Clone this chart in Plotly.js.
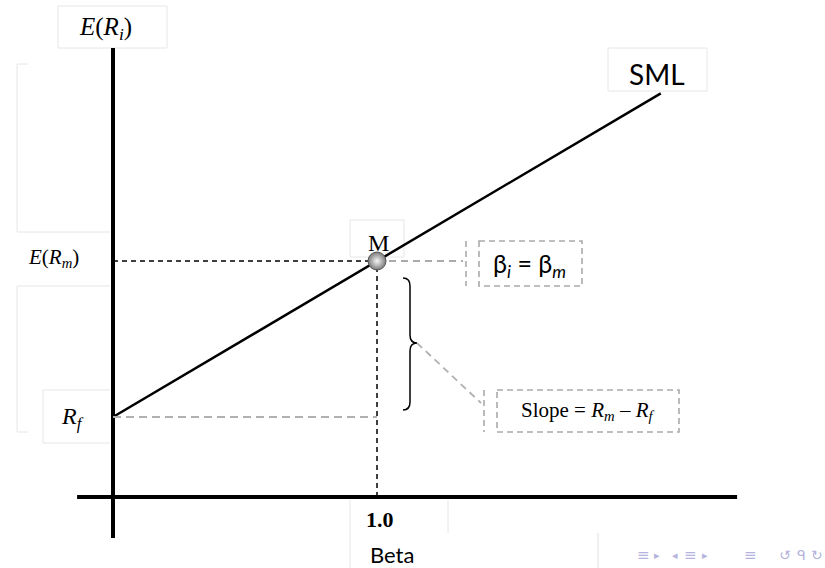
<!DOCTYPE html>
<html><head><meta charset="utf-8">
<script src="https://cdn.plot.ly/plotly-3.0.1.min.js"></script>
<style>html,body{margin:0;padding:0;background:#fff}#chart{width:825px;height:568px}</style>
</head><body><div id="chart"></div>
<script>
// ---- data ----
const marketBeta = 1.0;          // beta of the market portfolio
const riskFree = 4.0;            // Rf (intercept of the SML)
const marketReturn = 11.8;       // E(Rm)
const smlBetaRange = [0, 2.075]; // extent of the SML line
const betaTickLabels = ['1.0'];
const axisXRange = [-0.136, 2.364];
const axisYRange = [-2.05, 22.45];

// ---- pixel helpers (layout only) ----
const W = 825, H = 568, X0 = 113, Y0 = 497, PXX = 264, PXY = 20;
const px = p => (p - X0) / PXX;
const py = p => (Y0 - p) / PXY;

const smlY = smlBetaRange.map(b => riskFree + b * (marketReturn - riskFree));

const traces = [
  {x:[0,0], y:axisYRange, mode:'lines', line:{color:'#000', width:4}},
  {x:axisXRange, y:[0,0], mode:'lines', line:{color:'#000', width:4}},
  {x:smlBetaRange, y:smlY, mode:'lines', line:{color:'#000', width:2.5}},
  {x:[0, marketBeta], y:[marketReturn, marketReturn], mode:'lines', line:{color:'#000', width:1.5, dash:'5px,4px'}},
  {x:[marketBeta, px(463)], y:[marketReturn, marketReturn], mode:'lines', line:{color:'#aaa', width:1.8, dash:'7px,5px'}},
  {x:[marketBeta, marketBeta], y:[0, marketReturn], mode:'lines', line:{color:'#000', width:1.5, dash:'5px,4px'}},
  {x:[0, marketBeta], y:[riskFree, riskFree], mode:'lines', line:{color:'#b0b0b0', width:2, dash:'8px,5px'}},
  {x:[px(417), px(481)], y:[py(343), py(403)], mode:'lines', line:{color:'#b0b0b0', width:1.8, dash:'7px,5px'}},
  {x:[marketBeta], y:[marketReturn], mode:'markers',
   marker:{size:18, color:'#7a7a7a', gradient:{type:'radial', color:'#f6f6f6'}, line:{color:'#555', width:1}}}
];

const faint = '#e6e6e6';
const gdash = {color:'#aaa', width:1.6, dash:'6px,4px'};
function rect(x0,y0,x1,y1,line){return {type:'rect', xref:'x', yref:'y', x0:px(x0), x1:px(x1), y0:py(y0), y1:py(y1), line:line, layer:'below'};}
function seg(x0,y0,x1,y1,line){return {type:'line', xref:'x', yref:'y', x0:px(x0), x1:px(x1), y0:py(y0), y1:py(y1), line:line, layer:'below'};}
const fl = {color:faint, width:1};

const bx = 403, bt = 278, bb = 410, bm = 343, bw = 7;
const P = (a,b) => px(a) + ',' + py(b);
const bracePath = 'M' + P(bx,bt) + ' Q' + P(bx+bw,bt) + ' ' + P(bx+bw,bt+8) +
  ' L' + P(bx+bw,bm-8) + ' Q' + P(bx+bw,bm) + ' ' + P(bx+2*bw,bm) +
  ' Q' + P(bx+bw,bm) + ' ' + P(bx+bw,bm+8) + ' L' + P(bx+bw,bb-8) +
  ' Q' + P(bx+bw,bb) + ' ' + P(bx,bb);

const shapes = [
  rect(58,6,167,48,fl),
  rect(608,48,707,91,fl),
  rect(350,220,404,257,fl),
  seg(17,64,28,64,fl), seg(17,64,17,232,fl), seg(17,232,110,232,fl),
  seg(17,286,110,286,fl), seg(17,286,17,432,fl), seg(17,432,28,432,fl),
  seg(43,390,110,390,fl), seg(43,390,43,443,fl), seg(43,443,110,443,fl),
  seg(350,500,350,568,fl), seg(448,500,448,533,fl),
  seg(598,533,598,568,{color:'#e0e0e0', width:1}),
  rect(479,241,582,286,gdash), seg(466,241,466,286,gdash),
  rect(497,390,679,432,gdash), seg(484,390,484,432,gdash),
  {type:'path', xref:'x', yref:'y', path:bracePath, line:{color:'#000', width:1.5}}
];

const serif = 'Liberation Serif, Times New Roman, serif';
const sans = 'Lato, Open Sans, sans-serif';
function ann(text, x, y, size, family, color){
  return {text:text, x:px(x), y:py(y), xref:'x', yref:'y', showarrow:false,
    xanchor:'center', yanchor:'middle', font:{size:size, family:family, color:color||'#000'}};
}
const nav = '#b4b4de';
const annotations = [
  ann('<i>E</i>(<i>R<sub>i</sub></i>)', 105, 28, 25, serif),
  ann('SML', 657, 74, 28, sans),
  ann('M', 378, 243, 24, serif),
  ann('<i>E</i>(<i>R<sub>m</sub></i>)', 53, 258, 21, serif),
  ann('<i>R<sub>f</sub></i>', 72, 418, 24, serif),
  ann('<b>' + betaTickLabels[0] + '</b>', 380, 519, 22, serif),
  ann('Beta', 392, 554, 22, sans),
  ann('β<sub><i>i</i></sub> = β<sub><i>m</i></sub>', 529, 265, 25, sans),
  ann('Slope = <i>R<sub>m</sub></i> – <i>R<sub>f</sub></i>', 587, 411, 21, serif),
  ann('≡', 643, 555, 15, 'DejaVu Sans', nav),
  ann('▸', 657, 555, 11, 'DejaVu Sans', nav),
  ann('◂', 675, 555, 11, 'DejaVu Sans', nav),
  ann('≡', 690, 555, 15, 'DejaVu Sans', nav),
  ann('▸', 705, 555, 11, 'DejaVu Sans', nav),
  ann('≡', 750, 555, 15, 'DejaVu Sans', nav),
  ann('↺', 785, 555, 14, 'DejaVu Sans', nav),
  ann('ᑫ', 801, 555, 14, 'DejaVu Sans', nav),
  ann('↻', 817, 555, 14, 'DejaVu Sans', nav)
];

const layout = {
  width:W, height:H, margin:{l:0,r:0,t:0,b:0},
  paper_bgcolor:'#fff', plot_bgcolor:'#fff', showlegend:false,
  xaxis:{range:[px(0), px(W)], visible:false, fixedrange:true},
  yaxis:{range:[py(H), py(0)], visible:false, fixedrange:true},
  shapes:shapes, annotations:annotations
};
Plotly.newPlot('chart', traces, layout, {displayModeBar:false, staticPlot:true});
</script></body></html>
